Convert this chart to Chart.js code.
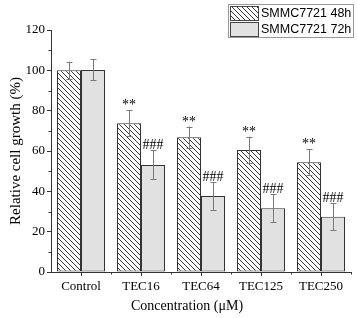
<!DOCTYPE html>
<html>
<head>
<meta charset="utf-8">
<script src="https://cdn.jsdelivr.net/npm/chart.js@4"></script>
<style>
  html, body { margin: 0; padding: 0; background: #fff; }
  #wrap { width: 357px; height: 318px; }
</style>
</head>
<body>
<div id="wrap"><canvas id="myChart" width="357" height="318"></canvas></div>
<script>
// data
var labels = ['Control', 'TEC16', 'TEC64', 'TEC125', 'TEC250'];
var growth48 = [100, 73.8, 66.8, 60.5, 54.4];
var err48 = [4.3, 6.3, 5.3, 6.6, 6.5];
var growth72 = [100.2, 53.1, 37.7, 31.6, 27.4];
var err72 = [5.2, 7.2, 6.9, 7.0, 6.8];
var mark48 = ['', '**', '**', '**', '**'];
var mark72 = ['', '###', '###', '###', '###'];
var yTicks = [0, 20, 40, 60, 80, 100, 120];
var seriesNames = ['SMMC7721 48h', 'SMMC7721 72h'];

var serif = "'Liberation Serif', 'Times New Roman', serif";
var sans = "'Liberation Sans', Arial, sans-serif";

// hatch pattern "\\\"
function makeHatch() {
  var c = document.createElement('canvas');
  var s = 5;
  c.width = s; c.height = s;
  var g = c.getContext('2d');
  g.fillStyle = '#fff';
  g.fillRect(0, 0, s, s);
  g.strokeStyle = '#222';
  g.lineWidth = 0.9;
  g.beginPath();
  g.moveTo(-1, -1); g.lineTo(s + 1, s + 1);
  g.moveTo(-1, s - 1); g.lineTo(1, s + 1);
  g.moveTo(s - 1, -1); g.lineTo(s + 1, 1);
  g.stroke();
  return g.createPattern(c, 'repeat');
}
var ctx = document.getElementById('myChart').getContext('2d');
var hatch = makeHatch();
var grayFill = '#e1e1e1';

// error bars, stars, minor ticks, legend, x title
var extras = {
  id: 'extras',
  afterDatasetsDraw: function (chart) {
    var c = chart.ctx;
    var y = chart.scales.y;
    var errs = [err48, err72];
    var marks = [mark48, mark72];
    c.save();
    for (var d = 0; d < 2; d++) {
      var meta = chart.getDatasetMeta(d);
      var vals = chart.data.datasets[d].data;
      meta.data.forEach(function (bar, i) {
        var top = y.getPixelForValue(vals[i] + errs[d][i]);
        var bot = y.getPixelForValue(vals[i] - errs[d][i]);
        var bx = Math.round(bar.x) + 0.5;
        c.strokeStyle = '#7a7a7a';
        c.lineWidth = 1;
        c.beginPath();
        c.moveTo(bx, top); c.lineTo(bx, bot);
        c.moveTo(bx - 3, Math.round(top) + 0.5); c.lineTo(bx + 3, Math.round(top) + 0.5);
        c.moveTo(bx - 3, Math.round(bot) + 0.5); c.lineTo(bx + 3, Math.round(bot) + 0.5);
        c.stroke();
        if (marks[d][i]) {
          c.fillStyle = '#000';
          c.font = '14px ' + serif;
          c.textAlign = 'center';
          c.textBaseline = 'alphabetic';
          c.fillText(marks[d][i], bar.x, top - 1);
        }
      });
    }
    c.restore();
  },
  afterDraw: function (chart) {
    var c = chart.ctx;
    var y = chart.scales.y;
    var area = chart.chartArea;
    c.save();
    c.strokeStyle = '#333';
    c.lineWidth = 1;
    c.beginPath();
    // minor y ticks
    for (var v = 10; v < 120; v += 20) {
      var py = Math.round(y.getPixelForValue(v)) + 0.5;
      c.moveTo(area.left - 2.5, py); c.lineTo(area.left, py);
    }
    // minor x ticks at category edges
    var step = (area.right - area.left) / labels.length;
    for (var k = 1; k <= labels.length; k++) {
      var px = Math.round(area.left + k * step) + 0.5;
      c.moveTo(px, area.bottom); c.lineTo(px, area.bottom + 2.5);
    }
    c.stroke();

    // x title
    c.fillStyle = '#000';
    c.font = '14px ' + serif;
    c.textAlign = 'center';
    c.textBaseline = 'middle';
    c.fillText('Concentration (\u03bcM)', 187, 306);

    // legend
    var lx = 228.5, ly = 4.5, lw = 125, lh = 33;
    c.strokeStyle = '#999';
    c.strokeRect(lx, ly, lw, lh);
    var fills = [hatch, grayFill];
    for (var r = 0; r < 2; r++) {
      var sy = 6.5 + r * 16;
      c.fillStyle = fills[r];
      c.fillRect(230.5, sy, 28, 14);
      c.strokeStyle = '#444';
      c.strokeRect(230.5, sy, 28, 14);
      c.fillStyle = '#000';
      c.font = '12.5px ' + sans;
      c.textAlign = 'left';
      c.textBaseline = 'middle';
      c.fillText(seriesNames[r], 261, sy + 7.5);
    }
    c.restore();
  }
};

var myChart = new Chart(ctx, {
  type: 'bar',
  data: {
    labels: labels,
    datasets: [
      {
        label: seriesNames[0],
        data: growth48,
        backgroundColor: hatch,
        borderColor: '#333',
        borderWidth: 1,
        borderSkipped: false
      },
      {
        label: seriesNames[1],
        data: growth72,
        backgroundColor: grayFill,
        borderColor: '#333',
        borderWidth: 1,
        borderSkipped: false
      }
    ]
  },
  options: {
    responsive: false,
    animation: false,
    devicePixelRatio: 1,
    layout: { padding: { left: 0, right: 6, top: 30, bottom: 0 } },
    datasets: { bar: { categoryPercentage: 0.8, barPercentage: 1.0 } },
    plugins: {
      legend: { display: false },
      tooltip: { enabled: false }
    },
    scales: {
      x: {
        offset: true,
        grid: { offset: false, drawOnChartArea: false, tickLength: 4, color: '#333' },
        border: { color: '#333', width: 1 },
        ticks: { color: '#000', font: { family: serif, size: 13 }, padding: 3 },
        afterFit: function (scale) { scale.height = 46; }
      },
      y: {
        min: 0,
        max: 120,
        afterBuildTicks: function (scale) {
          scale.ticks = yTicks.map(function (v) { return { value: v }; });
        },
        grid: { drawOnChartArea: false, tickLength: 4, color: '#333' },
        border: { color: '#333', width: 1 },
        ticks: { color: '#000', font: { family: serif, size: 13 }, padding: 2 },
        title: {
          display: true,
          text: 'Relative cell growth (%)',
          color: '#000',
          font: { family: serif, size: 15 },
          padding: { top: 7, bottom: 0 }
        },
        afterFit: function (scale) { scale.width = 51; }
      }
    }
  },
  plugins: [extras]
});
</script>
</body>
</html>
